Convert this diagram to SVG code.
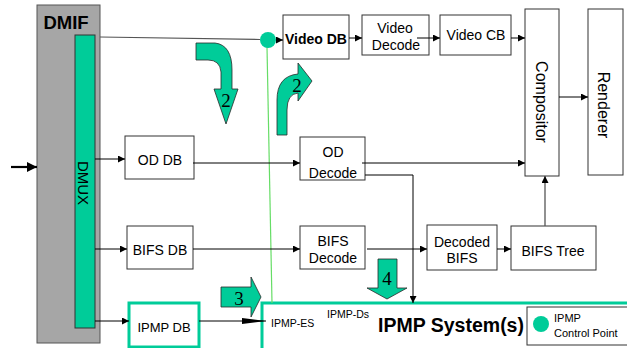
<svg xmlns="http://www.w3.org/2000/svg" width="627" height="348" viewBox="0 0 627 348">
  <defs>
    <marker id="ah" viewBox="0 0 10 10" refX="10" refY="5" markerWidth="8" markerHeight="7" markerUnits="userSpaceOnUse" orient="auto">
      <path d="M0,0 L10,5 L0,10 Z" fill="#000"/>
    </marker>
    <marker id="ahLong" viewBox="0 0 24 6" refX="24" refY="3" markerWidth="24" markerHeight="6" markerUnits="userSpaceOnUse" orient="auto">
      <path d="M0,0 L24,3 L0,6 Z" fill="#000"/>
    </marker>
    <marker id="ahThick" viewBox="0 0 10 10" refX="10" refY="5" markerWidth="10" markerHeight="10" markerUnits="userSpaceOnUse" orient="auto">
      <path d="M0,0 L10,5 L0,10 Z" fill="#000"/>
    </marker>
    <style>
      .box { fill: #fff; stroke: #333; stroke-width: 1; }
      .gbox { fill: #fff; stroke: #00cc99; stroke-width: 3; }
      .t { font-family: "Liberation Sans", Arial, sans-serif; font-size: 14px; fill: #000; text-anchor: middle; }
      .small { font-family: "Liberation Sans", Arial, sans-serif; font-size: 10.5px; fill: #000; }
      .num { font-family: "Liberation Serif", "Times New Roman", serif; font-size: 19px; fill: #000; text-anchor: middle; }
      .blk { fill: #00cc99; stroke: #2a2a2a; stroke-width: 0.8; }
      .ln { fill: none; stroke: #000; stroke-width: 1; }
      .gl { fill: none; stroke: #555; stroke-width: 1.2; }
    </style>
  </defs>

  <!-- DMIF with the DMUX inside -->
  <g id="dmif">
    <rect x="37" y="5" width="63" height="338" fill="#a6a6a6" stroke="#555" stroke-width="1"/>
    <text x="66" y="29" font-family="Liberation Sans, Arial, sans-serif" font-size="18.5" font-weight="bold" text-anchor="middle">DMIF</text>
  </g>
  <g id="dmux">
    <rect x="75" y="35" width="20" height="293" fill="#00cc99" stroke="#333" stroke-width="1"/>
    <text class="t" transform="translate(78,183) rotate(90)" style="font-size:15px">DMUX</text>
  </g>

  <!-- IPMP system region -->
  <g id="ipmp-system">
    <rect x="262" y="303" width="400" height="60" class="gbox"/>
    <text x="451" y="332" font-family="Liberation Sans, Arial, sans-serif" font-size="19.5" font-weight="bold" text-anchor="middle">IPMP System(s)</text>
    <text class="small" x="271" y="327">IPMP-ES</text>
    <text class="small" x="327" y="318">IPMP-Ds</text>
  </g>

  <g id="legend">
    <rect x="527" y="307" width="105" height="38" fill="#fff" stroke="#333" stroke-width="1"/>
    <circle cx="541" cy="324" r="8" fill="#00cc99"/>
    <text class="small" x="554" y="322" style="font-size:11px">IPMP</text>
    <text class="small" x="554" y="337" style="font-size:11px">Control Point</text>
  </g>

  <!-- control point wire -->
  <line x1="267" y1="47" x2="272" y2="303" stroke="#66dd66" stroke-width="1.2"/>

  <g id="video-db">
    <rect x="283" y="15" width="66" height="44" class="box"/>
    <text class="t" x="316" y="44" font-weight="bold">Video DB</text>
  </g>
  <g id="video-decode">
    <rect x="362" y="15" width="67" height="40" class="box"/>
    <text class="t" x="395" y="33">Video</text>
    <text class="t" x="396" y="50">Decode</text>
  </g>
  <g id="video-cb">
    <rect x="440" y="15" width="71" height="40" class="box"/>
    <text class="t" x="476" y="40">Video CB</text>
  </g>
  <g id="compositor">
    <rect x="525" y="9" width="34" height="167" class="box"/>
    <text class="t" transform="translate(536,102) rotate(90)" style="font-size:16px">Compositor</text>
  </g>
  <g id="renderer">
    <rect x="588" y="9" width="35" height="166" class="box"/>
    <text class="t" transform="translate(598,105) rotate(90)" style="font-size:16px">Renderer</text>
  </g>
  <g id="od-db">
    <rect x="125" y="136" width="69" height="43" class="box"/>
    <text class="t" x="160" y="165">OD DB</text>
  </g>
  <g id="od-decode">
    <rect x="300" y="137" width="65" height="43" class="box"/>
    <text class="t" x="333" y="157">OD</text>
    <text class="t" x="333" y="178">Decode</text>
  </g>
  <g id="bifs-db">
    <rect x="127" y="226" width="66" height="43" class="box"/>
    <text class="t" x="160" y="255">BIFS DB</text>
  </g>
  <g id="bifs-decode">
    <rect x="300" y="226" width="65" height="43" class="box"/>
    <text class="t" x="333" y="246">BIFS</text>
    <text class="t" x="333" y="263">Decode</text>
  </g>
  <g id="decoded-bifs">
    <rect x="427" y="225" width="70" height="45" class="box"/>
    <text class="t" x="462" y="247">Decoded</text>
    <text class="t" x="462" y="263">BIFS</text>
  </g>
  <g id="bifs-tree">
    <rect x="511" y="226" width="85" height="44" class="box"/>
    <text class="t" x="553" y="256">BIFS Tree</text>
  </g>
  <g id="ipmp-db">
    <rect x="129" y="303" width="70" height="44" class="gbox"/>
    <text class="t" x="164" y="332" style="font-size:13px">IPMP DB</text>
  </g>
  <g id="control-point">
    <circle cx="268" cy="40" r="8" fill="#00cc99"/>
  </g>

  <!-- connectors -->
  <g id="connectors">
    <line x1="11" y1="167" x2="37" y2="167" stroke="#000" stroke-width="2.2" marker-end="url(#ahThick)"/>
    <line x1="100" y1="37" x2="260" y2="39.5" class="gl"/>
    <line x1="276" y1="40" x2="283" y2="40" class="ln" marker-end="url(#ah)"/>
    <line x1="349" y1="38" x2="362" y2="38" class="ln" marker-end="url(#ah)"/>
    <line x1="417" y1="38" x2="440" y2="38" class="ln" marker-end="url(#ah)"/>
    <line x1="511" y1="38" x2="525" y2="38" class="ln" marker-end="url(#ah)"/>
    <line x1="559" y1="97" x2="588" y2="97" class="ln" marker-end="url(#ah)"/>
    <line x1="95" y1="159" x2="125" y2="159" class="ln" marker-end="url(#ah)"/>
    <line x1="193" y1="163" x2="300" y2="163" class="ln" marker-end="url(#ah)"/>
    <line x1="362" y1="163" x2="525" y2="163" class="ln" marker-end="url(#ah)"/>
    <polyline points="365,175 413,175 413,303" class="ln" marker-end="url(#ah)"/>
    <line x1="95" y1="249" x2="127" y2="249" class="ln" marker-end="url(#ah)"/>
    <line x1="193" y1="249" x2="300" y2="249" class="ln" marker-end="url(#ah)"/>
    <line x1="367" y1="249" x2="427" y2="249" class="ln" marker-end="url(#ah)"/>
    <line x1="497" y1="249" x2="511" y2="249" class="ln" marker-end="url(#ah)"/>
    <line x1="545" y1="226" x2="545" y2="176" stroke="#555" stroke-width="1.3" marker-end="url(#ah)"/>
    <line x1="95" y1="321" x2="129" y2="321" class="ln" marker-end="url(#ah)"/>
    <line x1="199" y1="321" x2="266" y2="321" class="ln" marker-end="url(#ahLong)"/>
  </g>

  <!-- numbered block arrows -->
  <g id="step-2a">
    <path class="blk" d="M196,43 L215,43 Q232,45 232,70 L232,89 L238,89 L226,124 L214,89 L221,89 L221,72 Q220,60 208,60 L196,60 Z"/>
    <text class="num" x="226" y="107">2</text>
  </g>
  <g id="step-2b">
    <path class="blk" d="M277,135 L277,100 Q277,76 298,74 L298,63 L312,81 L298,101 L298,93 Q287,94 287,110 L287,135 Z"/>
    <text class="num" x="297" y="92">2</text>
  </g>
  <g id="step-3">
    <path class="blk" d="M221,287 L251,287 L251,277 L261,297 L251,317 L251,307 L221,307 Z"/>
    <text class="num" x="239" y="305">3</text>
  </g>
  <g id="step-4">
    <path class="blk" d="M378,259 L397,259 L397,288 L407,288 L387,299 L367,288 L378,288 Z"/>
    <text class="num" x="387" y="285">4</text>
  </g>
</svg>
